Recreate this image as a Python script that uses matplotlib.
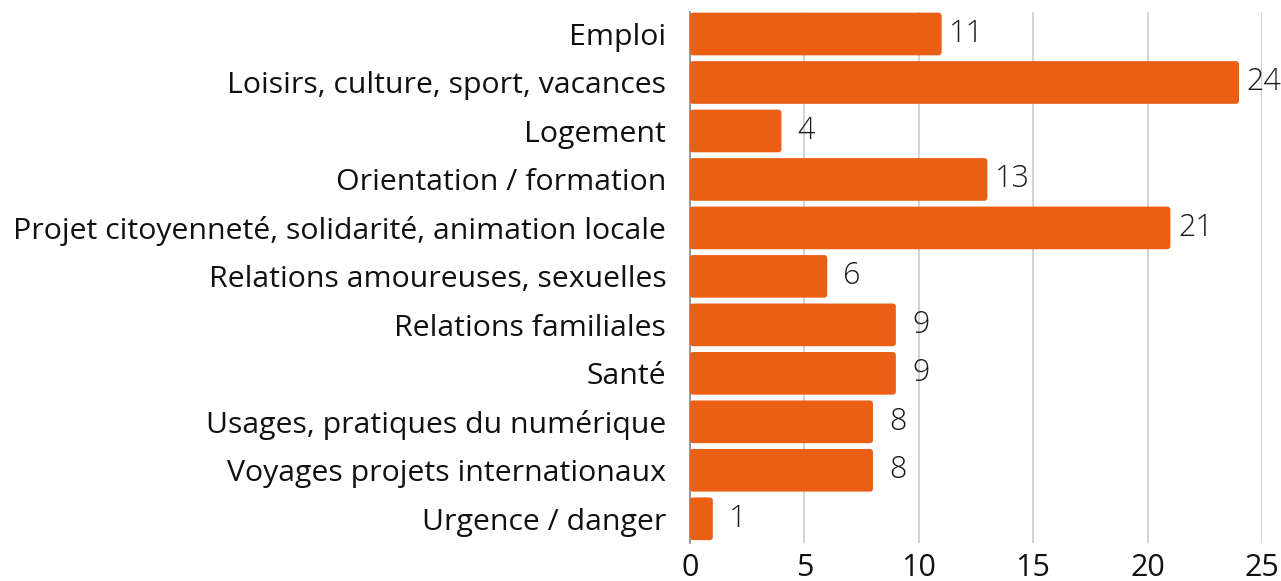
import numpy as np
import matplotlib.pyplot as plt
from matplotlib.patches import FancyBboxPatch

categories = [
    "Emploi",
    "Loisirs, culture, sport, vacances",
    "Logement",
    "Orientation / formation",
    "Projet citoyenneté, solidarité, animation locale",
    "Relations amoureuses, sexuelles",
    "Relations familiales",
    "Santé",
    "Usages, pratiques du numérique",
    "Voyages projets internationaux",
    "Urgence / danger",
]
counts = [11, 24, 4, 13, 21, 6, 9, 9, 8, 8, 1]
xticks = [0, 5, 10, 15, 20, 25]

plt.rcParams['font.family'] = ['Open Sans', 'DejaVu Sans']

fig = plt.figure(figsize=(12.81, 5.81), dpi=100)
ax = fig.add_axes([0.5386, 0.0654, 0.4465, 0.9136])

y = np.arange(len(categories))
bars = ax.barh(y, counts, height=0.88, color='#EB5F14', zorder=3)

# swap plain rectangles for slightly rounded ones
for b in bars:
    x0, y0 = b.get_x(), b.get_y()
    w, h = b.get_width(), b.get_height()
    rb = FancyBboxPatch((x0, y0), w, h,
                        boxstyle="round,pad=0,rounding_size=0.13",
                        mutation_aspect=0.47, facecolor='#EB5F14',
                        edgecolor='none', zorder=3)
    b.remove()
    ax.add_patch(rb)

# value labels, centred a bit to the right of each bar
for yi, v in zip(y, counts):
    ax.annotate(str(v), (v, yi), xytext=(18, 0), textcoords='offset points',
                ha='center', va='center', fontsize=22, fontweight='light',
                color='#1a1a1a')

ax.set_xlim(0, 25)
ax.set_ylim(10.5, -0.45)
ax.set_xticks(xticks)
ax.set_yticks(y)
ax.set_yticklabels(categories)
ax.tick_params(axis='y', length=0, pad=17, labelsize=21.8, labelcolor='#111111')
ax.tick_params(axis='x', length=0, pad=7, labelsize=22, labelcolor='#111111')

ax.grid(axis='x', color='#cccccc', linewidth=1.2, zorder=0)
for s in ['top', 'right', 'bottom']:
    ax.spines[s].set_visible(False)
ax.spines['left'].set_color('#888888')
ax.spines['left'].set_linewidth(1.2)

fig.savefig('out.png', dpi=100)
